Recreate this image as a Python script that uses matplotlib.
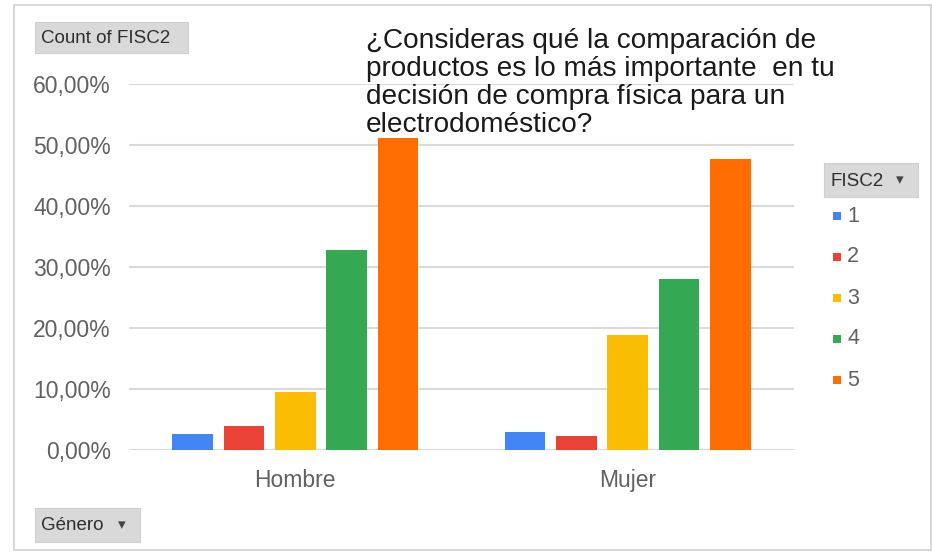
import matplotlib
matplotlib.use("Agg")
import matplotlib.pyplot as plt
from matplotlib.patches import Rectangle
from matplotlib.ticker import FuncFormatter
import numpy as np

# Data: share of answers per FISC2 rating, by gender
generos = ["Hombre", "Mujer"]
niveles = ["1", "2", "3", "4", "5"]
fisc2_1 = [0.026, 0.030]
fisc2_2 = [0.039, 0.023]
fisc2_3 = [0.095, 0.189]
fisc2_4 = [0.328, 0.281]
fisc2_5 = [0.512, 0.477]
y_ticks = [0.0, 0.1, 0.2, 0.3, 0.4, 0.5, 0.6]

series = [fisc2_1, fisc2_2, fisc2_3, fisc2_4, fisc2_5]
colores = ["#4285F4", "#EA4335", "#FBBC04", "#34A853", "#FF6D01"]

W, H = 932, 554
plt.rcParams["font.family"] = ["Liberation Sans", "DejaVu Sans"]
fig = plt.figure(figsize=(W / 100, H / 100), dpi=100)


def fx(px):
    return px / W


def fy(py):
    return 1 - py / H


# outer frame
fig.patches.append(Rectangle((fx(14), fy(550)), fx(931) - fx(14), fy(5) - fy(550),
                             transform=fig.transFigure, fill=False,
                             edgecolor="#d0d0d0", linewidth=1.2, zorder=0))

ax_l, ax_r, ax_t, ax_b = 129, 794, 84, 450
ax = fig.add_axes([fx(ax_l), fy(ax_b), fx(ax_r) - fx(ax_l), fy(ax_t) - fy(ax_b)])

x = np.arange(len(generos))
pitch = 0.1545
width = 0.122
for j, (vals, col) in enumerate(zip(series, colores)):
    ax.bar(x + (j - 2) * pitch, vals, width=width, color=col, zorder=3, label=niveles[j])

ax.set_xlim(-0.5, 1.5)
ax.set_ylim(0, 0.6)
ax.set_yticks(y_ticks)
ax.yaxis.set_major_formatter(FuncFormatter(lambda v, p: f"{v * 100:.2f}%".replace(".", ",")))
ax.set_xticks(x)
ax.set_xticklabels(generos)
ax.tick_params(axis="both", length=0, labelsize=16.5, labelcolor="#616161")
ax.tick_params(axis="y", pad=13)
ax.tick_params(axis="x", pad=14)
ax.grid(axis="y", color="#dadada", linewidth=1.5, zorder=0)
for s in ax.spines.values():
    s.set_visible(False)
ax.set_facecolor("none")

# title lines
titulo = ["¿Consideras qué la comparación de",
          "productos es lo más importante  en tu",
          "decisión de compra física para un",
          "electrodoméstico?"]
for i, linea in enumerate(titulo):
    fig.text(fx(366), fy(48 + 28 * i), linea, fontsize=20.2, color="#1a1a1a",
             ha="left", va="baseline", zorder=10)


# pivot field buttons
def boton(x0, y0, x1, y1, texto, flecha=False):
    fig.patches.append(Rectangle((fx(x0), fy(y1)), fx(x1) - fx(x0), fy(y0) - fy(y1),
                                 transform=fig.transFigure, facecolor="#d9d9d9",
                                 edgecolor="#cfcfcf", linewidth=0.8, zorder=5))
    fig.text(fx(x0 + 6), fy((y0 + y1) / 2 + 1), texto, fontsize=13.5, color="#2e2e2e",
             ha="left", va="center", zorder=6)
    if flecha:
        fig.text(fx(x1 - 18), fy((y0 + y1) / 2), "▾", fontsize=11, color="#444444",
                 family=["DejaVu Sans"], ha="center", va="center", zorder=6)


boton(35, 22, 188, 53, "Count of FISC2")
boton(824, 163, 918, 197, "FISC2", flecha=True)
boton(35, 508, 140, 542, "Género", flecha=True)

# legend
leg_y = [216, 257, 298, 339, 380]
for ny, col, lab in zip(leg_y, colores, niveles):
    fig.patches.append(Rectangle((fx(833), fy(ny + 4)), fx(8), 8 / H,
                                 transform=fig.transFigure, facecolor=col,
                                 edgecolor="none", zorder=5))
    fig.text(fx(847), fy(ny), lab, fontsize=15.5, color="#616161",
             ha="left", va="center", zorder=6)

fig.savefig("out.png", dpi=100)
